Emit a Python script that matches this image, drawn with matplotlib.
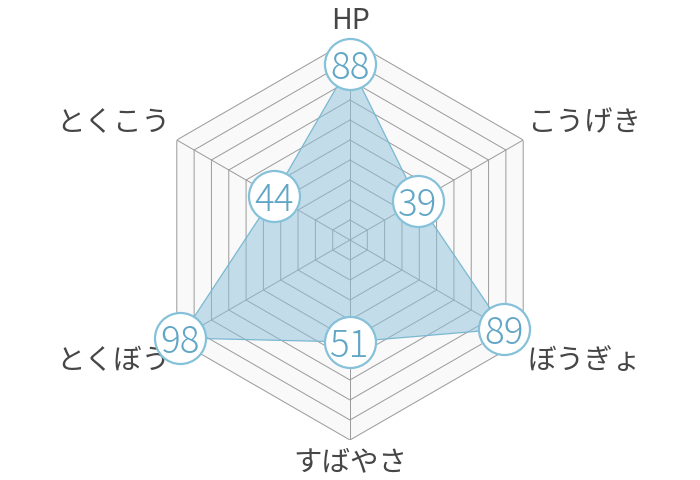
import numpy as np
import matplotlib
matplotlib.use("Agg")
import matplotlib.pyplot as plt

plt.rcParams['font.family'] = ['Noto Sans CJK JP', 'DejaVu Sans']

categories = ["HP", "こうげき", "ぼうぎょ", "すばやさ", "とくぼう", "とくこう"]
values = [88, 39, 89, 51, 98, 44]
ring_levels = [10, 20, 30, 40, 50, 60, 70, 80, 90, 100]
r_max = 100

fig = plt.figure(figsize=(7, 4.8), dpi=100)
ax = fig.add_axes([150 / 700, 40 / 480, 400 / 700, 400 / 480], projection='polar')
ax.set_theta_offset(np.pi / 2)
ax.set_theta_direction(-1)
ax.set_ylim(0, r_max)
ax.grid(False)
ax.spines['polar'].set_visible(False)
ax.set_xticks([])
ax.set_yticks([])
ax.patch.set_alpha(0)

n = len(categories)
theta = np.arange(n) * 2 * np.pi / n
theta_c = np.append(theta, theta[0])

# background
ax.fill(theta_c, [r_max] * (n + 1), color='#f9f9f9', zorder=0)
# rings
for lv in ring_levels:
    ax.plot(theta_c, [lv] * (n + 1), color='#9a9a9a', lw=0.7, zorder=1)
# spokes
for t in theta:
    ax.plot([t, t], [0, r_max], color='#9a9a9a', lw=0.7, zorder=1)

vals_c = values + [values[0]]
ax.fill(theta_c, vals_c, color='#8cc2da', alpha=0.5, zorder=2, lw=0)
ax.plot(theta_c, vals_c, color='#7ab8d2', lw=0.9, zorder=3)

ax.scatter(theta, values, s=1350, facecolor='white', edgecolor='#86c1da',
           linewidths=1.6, zorder=4, clip_on=False)
for t, v in zip(theta, values):
    ax.text(t, v, str(v), ha='center', va='center_baseline', fontsize=26.5,
            fontweight='light', color='#62a6c6', zorder=5, clip_on=False)

# category labels (offsets in pixels from the outer vertex)
px = 72 / 100
for t, c in zip(theta, categories):
    deg = np.degrees(t) % 360
    if np.isclose(deg, 0):
        ha, off = 'center', (0, 19)
    elif np.isclose(deg, 180):
        ha, off = 'center', (0, -22)
    else:
        right = deg < 180
        upper = deg < 90 or deg > 270
        ha = 'left' if right else 'right'
        off = (4 if right else -7, 17 if upper else -21)
    ax.annotate(c, xy=(t, r_max), xytext=(off[0] * px, off[1] * px),
                textcoords='offset points', ha=ha, va='center',
                fontsize=20.5, color='#464646', annotation_clip=False)

fig.savefig('out.png', dpi=100)
